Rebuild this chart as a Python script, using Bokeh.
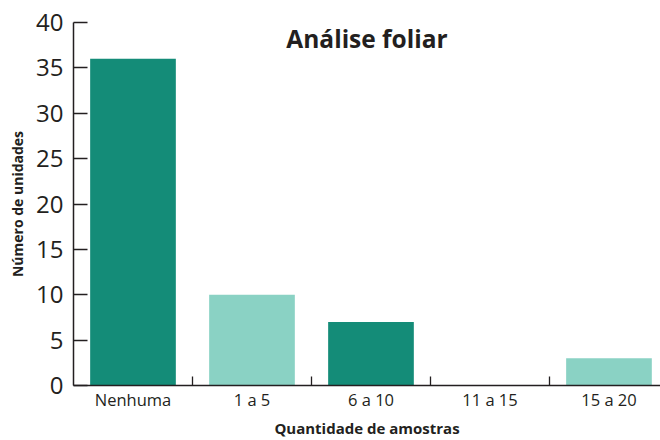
from bokeh.plotting import figure
from bokeh.models import Range1d, FixedTicker, Label, ColumnDataSource
from bokeh.embed import file_html
from bokeh.resources import INLINE

categories = ["Nenhuma", "1 a 5", "6 a 10", "11 a 15", "15 a 20"]
values = [36, 10, 7, 0, 3]
y_ticks = [0, 5, 10, 15, 20, 25, 30, 35, 40]

DARK = "#148c78"
LIGHT = "#8ad2c4"
bar_colors = [DARK, LIGHT, DARK, LIGHT, LIGHT]

TEXT = "#231f20"
FONT = "Open Sans"

centers = [i + 0.5 for i in range(len(categories))]
bounds = [i for i in range(1, len(categories))]

src = ColumnDataSource(dict(x=centers, top=values, color=bar_colors, cat=categories))

x_end = 4.933
p = figure(width=660, height=440, output_backend="svg", toolbar_location=None,
           x_range=Range1d(0, x_end), y_range=Range1d(0, 40),
           min_border_left=73, min_border_right=0, min_border_top=22, min_border_bottom=54)
p.outline_line_color = None
p.grid.grid_line_color = None
p.background_fill_color = "white"
p.border_fill_color = "white"

p.vbar(x="x", top="top", width=0.72, color="color", line_color=None, source=src)

# x axis
xa = p.xaxis[0]
xa.ticker = FixedTicker(ticks=centers, minor_ticks=bounds)
xa.major_label_overrides = {c: lab for c, lab in zip(centers, categories)}
xa.major_tick_in = 0
xa.major_tick_out = 0
xa.minor_tick_in = 9
xa.minor_tick_out = 0
xa.minor_tick_line_color = TEXT
xa.minor_tick_line_width = 1.3
xa.axis_line_color = TEXT
xa.axis_line_width = 1.5
xa.major_label_text_font = FONT
xa.major_label_text_font_size = "16.5px"
xa.major_label_text_color = TEXT
xa.major_label_standoff = 2
xa.axis_label = "Quantidade de amostras"
xa.axis_label_text_font = FONT
xa.axis_label_text_font_style = "bold"
xa.axis_label_text_font_size = "15px"
xa.axis_label_text_color = TEXT
xa.axis_label_standoff = 4

# y axis
ya = p.yaxis[0]
ya.ticker = FixedTicker(ticks=y_ticks)
ya.major_tick_in = 14
ya.major_tick_out = 0
ya.minor_tick_line_color = None
ya.major_tick_line_color = TEXT
ya.major_tick_line_width = 1.3
ya.axis_line_color = TEXT
ya.axis_line_width = 1.5
ya.major_label_text_font = FONT
ya.major_label_text_font_size = "24px"
ya.major_label_text_color = TEXT
ya.major_label_standoff = 10
ya.axis_label = "Número de unidades"
ya.axis_label_text_font = FONT
ya.axis_label_text_font_style = "bold"
ya.axis_label_text_font_size = "14px"
ya.axis_label_text_color = TEXT
ya.axis_label_standoff = 6

title = Label(x=x_end / 2, y=38.2, text="Análise foliar", text_align="center",
              text_baseline="middle", text_font=FONT, text_font_style="bold",
              text_font_size="24.5px", text_color=TEXT)
p.add_layout(title)

open("out.html", "w").write(file_html(p, INLINE))
